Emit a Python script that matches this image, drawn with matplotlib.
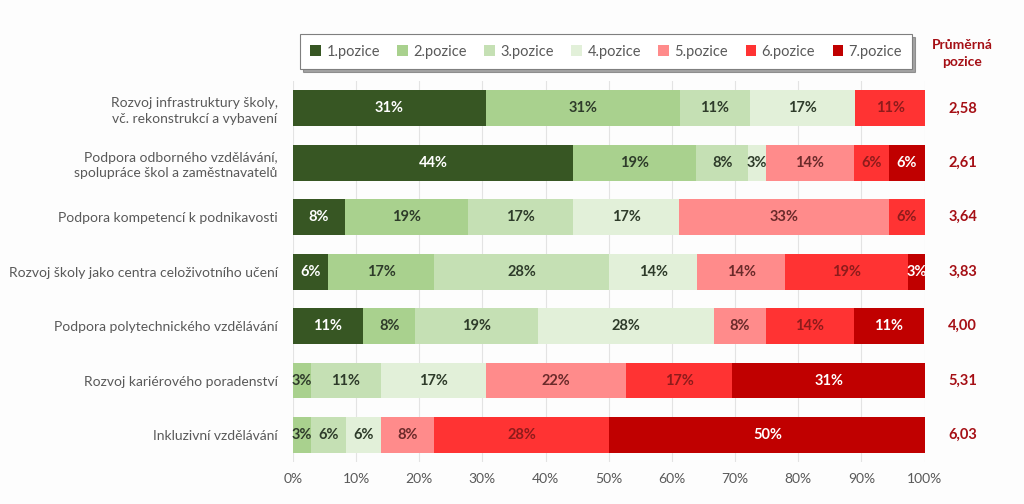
import numpy as np
import matplotlib.pyplot as plt
from matplotlib.patches import Patch

categories = [
    "Rozvoj infrastruktury školy,\nvč. rekonstrukcí a vybavení",
    "Podpora odborného vzdělávání,\nspolupráce škol a zaměstnavatelů",
    "Podpora kompetencí k podnikavosti",
    "Rozvoj školy jako centra celoživotního učení",
    "Podpora polytechnického vzdělávání",
    "Rozvoj kariérového poradenství",
    "Inkluzivní vzdělávání",
]
series_names = ["1.pozice", "2.pozice", "3.pozice", "4.pozice",
                "5.pozice", "6.pozice", "7.pozice"]

# shares in percent, one list per position (rows follow categories)
pos1 = [30.6, 44.4, 8.3, 5.6, 11.1, 0.0, 0.0]
pos2 = [30.6, 19.4, 19.4, 16.7, 8.3, 2.8, 2.8]
pos3 = [11.1, 8.3, 16.7, 27.8, 19.4, 11.1, 5.6]
pos4 = [16.7, 2.8, 16.7, 13.9, 27.8, 16.7, 5.6]
pos5 = [0.0, 13.9, 33.3, 13.9, 8.3, 22.2, 8.3]
pos6 = [11.1, 5.6, 5.6, 19.4, 13.9, 16.7, 27.8]
pos7 = [0.0, 5.6, 0.0, 2.8, 11.1, 30.6, 50.0]
avg_position = ["2,58", "2,61", "3,64", "3,83", "4,00", "5,31", "6,03"]
x_ticks = [0, 10, 20, 30, 40, 50, 60, 70, 80, 90, 100]

colors = ["#375623", "#A9D18E", "#C5E0B4", "#E2F0D9",
          "#FF8B8B", "#FF3333", "#C00000"]
text_colors = ["white", "#2E3B2A", "#2E3B2A", "#2E3B2A",
               "#6A2A2A", "#8E1B1B", "white"]

plt.rcParams['font.family'] = ['Lato', 'DejaVu Sans']

fig = plt.figure(figsize=(10.24, 5.04), dpi=100)
fig.patch.set_facecolor("#FDFDFD")
ax = fig.add_axes([0.286, 0.083, 0.617, 0.756])
ax.set_facecolor("#FDFDFD")

data = [pos1, pos2, pos3, pos4, pos5, pos6, pos7]
y = np.arange(len(categories))
left = np.zeros(len(categories))
for i, vals in enumerate(data):
    vals = np.array(vals)
    ax.barh(y, vals, left=left, height=0.66, color=colors[i], zorder=3)
    for j, v in enumerate(vals):
        if v > 0:
            ax.text(left[j] + v / 2, y[j], "%d%%" % round(v),
                    ha="center", va="center", fontsize=10.5,
                    fontweight="bold", color=text_colors[i], zorder=4)
    left += vals

ax.set_xlim(0, 100)
ax.set_ylim(len(categories) - 0.5, -0.5)
ax.set_xticks(x_ticks)
ax.set_xticklabels(["%d%%" % t for t in x_ticks], fontsize=10, color="#595959")
ax.set_yticks(y)
ax.set_yticklabels(categories, fontsize=10, color="#595959", linespacing=1.35)
ax.tick_params(axis="both", length=0)
ax.tick_params(axis="y", pad=11)
ax.tick_params(axis="x", pad=8)
ax.grid(axis="x", color="#E3E3E3", linewidth=0.8, zorder=0)
for s in ax.spines.values():
    s.set_visible(False)

# right column with average position
fig.text(0.94, 0.893, "Průměrná\npozice", ha="center", va="center",
         fontsize=10, fontweight="bold", color="#A50F15", linespacing=1.5)
for j, txt in enumerate(avg_position):
    ax.text(1.06, y[j], txt, transform=ax.get_yaxis_transform(),
            ha="center", va="center", fontsize=10.5, fontweight="bold",
            color="#A50F15")

handles = [Patch(facecolor=c, edgecolor="none") for c in colors]
leg = fig.legend(handles, series_names, ncol=7, loc="center",
                 bbox_to_anchor=(0.286, 0.861, 0.612, 0.073), mode="expand",
                 fontsize=10.5, frameon=True, fancybox=False, shadow=True,
                 handlelength=0.7, handleheight=0.7, handletextpad=0.4,
                 borderpad=0.7, columnspacing=1.0)
leg.get_frame().set_edgecolor("#7F7F7F")
leg.get_frame().set_linewidth(0.8)
for t in leg.get_texts():
    t.set_color("#595959")

fig.savefig("out.png", dpi=100, facecolor=fig.get_facecolor())
